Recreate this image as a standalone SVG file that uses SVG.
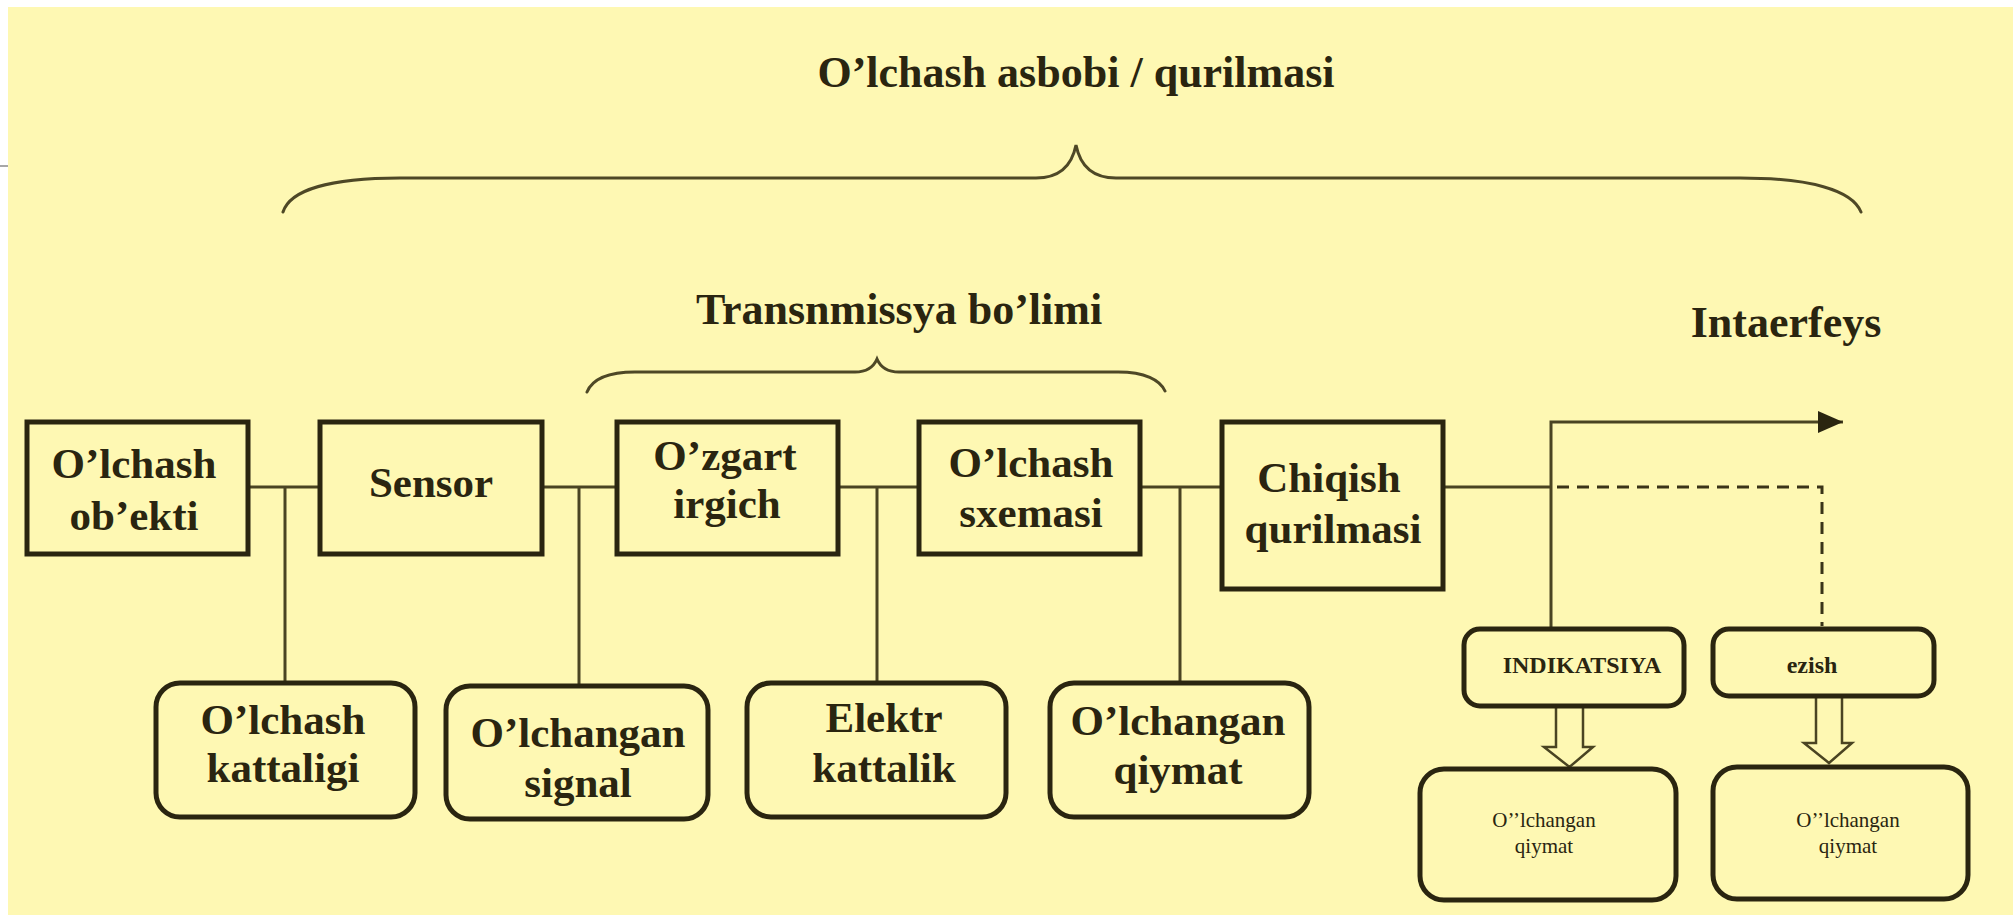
<svg xmlns="http://www.w3.org/2000/svg" width="2013" height="915" viewBox="0 0 2013 915">
<defs>
<style>
.bg{fill:#FEF8B3}
.box{fill:none;stroke:#2a2510;stroke-width:5}
.rbox{fill:none;stroke:#2a2510;stroke-width:5}
.ln{fill:none;stroke:#4a4422;stroke-width:3}
.dash{fill:none;stroke:#3a3418;stroke-width:3;stroke-dasharray:12 8}
.brace{fill:none;stroke:#4e4826;stroke-width:3;stroke-linecap:round}
.hollow{fill:#FEF8B3;stroke:#4a4422;stroke-width:2.5;stroke-linejoin:miter}
text{font-family:"Liberation Serif","Times New Roman",serif;fill:#2a2510;text-anchor:middle}
.t{font-size:43px;font-weight:bold}
.h{font-size:44px;font-weight:bold}
.s{font-size:24px;font-weight:bold}
.xs{font-size:21px}
</style>
<marker id="arr" viewBox="0 0 25 22" refX="25" refY="11" markerWidth="25" markerHeight="22" markerUnits="userSpaceOnUse" orient="auto">
<path d="M0,0 L25,11 L0,22 Z" fill="#2a2510"/>
</marker>
</defs>
<rect x="0" y="0" width="2013" height="915" fill="#ffffff"/>
<rect class="bg" x="8" y="7" width="2005" height="908"/>
<line x1="0" y1="166" x2="8" y2="166" stroke="#8a8a8a" stroke-width="1.5"/>

<g id="labels">
<text class="h" x="1076" y="87">O’lchash asbobi / qurilmasi</text>
<path class="brace" d="M283,212 C290,190 330,178 400,178 L1036,178 C1060,178 1072,165 1076,145 C1080,165 1092,178 1116,178 L1740,178 C1810,178 1852,190 1861,212"/>
<text class="h" x="899" y="324">Transnmissya bo’limi</text>
<path class="brace" d="M587,392 C592,380 605,372 635,372 L855,372 C868,372 874,366 877,359 C880,366 886,372 899,372 L1118,372 C1145,372 1160,380 1165,391"/>
<text class="h" x="1786" y="337">Intaerfeys</text>
</g>

<g id="connectors">
<line class="ln" x1="248" y1="487" x2="320" y2="487"/>
<line class="ln" x1="542" y1="487" x2="617" y2="487"/>
<line class="ln" x1="838" y1="487" x2="919" y2="487"/>
<line class="ln" x1="1140" y1="487" x2="1222" y2="487"/>
<line class="ln" x1="1443" y1="487" x2="1551" y2="487"/>
<line class="ln" x1="285" y1="487" x2="285" y2="683"/>
<line class="ln" x1="579" y1="487" x2="579" y2="686"/>
<line class="ln" x1="877" y1="487" x2="877" y2="683"/>
<line class="ln" x1="1180" y1="487" x2="1180" y2="683"/>
<path class="ln" d="M1551,628 L1551,422 L1843,422" marker-end="url(#arr)"/>
<path class="dash" d="M1557,487 L1822,487 L1822,626"/>
<polygon class="hollow" points="1556,706 1583,706 1583,747 1593,747 1569.5,767 1544,747 1556,747"/>
<polygon class="hollow" points="1816,696 1842,696 1842,743 1852,743 1829,763 1804,743 1816,743"/>
</g>

<g id="olchash-obekti">
<rect class="box" x="27" y="422" width="221" height="132"/>
<text class="t" x="134" y="478">O’lchash</text>
<text class="t" x="134" y="530">ob’ekti</text>
</g>
<g id="sensor">
<rect class="box" x="320" y="422" width="222" height="132"/>
<text class="t" x="431" y="497">Sensor</text>
</g>
<g id="ozgartirgich">
<rect class="box" x="617" y="422" width="221" height="132"/>
<text class="t" x="725" y="470">O’zgart</text>
<text class="t" x="727" y="518">irgich</text>
</g>
<g id="olchash-sxemasi">
<rect class="box" x="919" y="422" width="221" height="132"/>
<text class="t" x="1031" y="477">O’lchash</text>
<text class="t" x="1031" y="527">sxemasi</text>
</g>
<g id="chiqish-qurilmasi">
<rect class="box" x="1222" y="422" width="221" height="167"/>
<text class="t" x="1329" y="492">Chiqish</text>
<text class="t" x="1333" y="543">qurilmasi</text>
</g>

<g id="olchash-kattaligi">
<rect class="rbox" x="156" y="683" width="259" height="134" rx="24"/>
<text class="t" x="283" y="734">O’lchash</text>
<text class="t" x="283" y="782">kattaligi</text>
</g>
<g id="olchangan-signal">
<rect class="rbox" x="446" y="686" width="262" height="133" rx="24"/>
<text class="t" x="578" y="747">O’lchangan</text>
<text class="t" x="578" y="797">signal</text>
</g>
<g id="elektr-kattalik">
<rect class="rbox" x="747" y="683" width="259" height="134" rx="24"/>
<text class="t" x="884" y="732">Elektr</text>
<text class="t" x="884" y="782">kattalik</text>
</g>
<g id="olchangan-qiymat">
<rect class="rbox" x="1050" y="683" width="259" height="134" rx="24"/>
<text class="t" x="1178" y="735">O’lchangan</text>
<text class="t" x="1178" y="784">qiymat</text>
</g>

<g id="indikatsiya">
<rect class="rbox" x="1464" y="629" width="220" height="77" rx="16"/>
<text class="s" x="1582" y="673">INDIKATSIYA</text>
</g>
<g id="ezish">
<rect class="rbox" x="1713" y="629" width="221" height="67" rx="16"/>
<text class="s" x="1812" y="673">ezish</text>
</g>
<g id="olchangan-qiymat-1">
<rect class="rbox" x="1420" y="769" width="256" height="131" rx="24"/>
<text class="xs" x="1544" y="827">O’’lchangan</text>
<text class="xs" x="1544" y="853">qiymat</text>
</g>
<g id="olchangan-qiymat-2">
<rect class="rbox" x="1713" y="767" width="255" height="132" rx="24"/>
<text class="xs" x="1848" y="827">O’’lchangan</text>
<text class="xs" x="1848" y="853">qiymat</text>
</g>
</svg>
